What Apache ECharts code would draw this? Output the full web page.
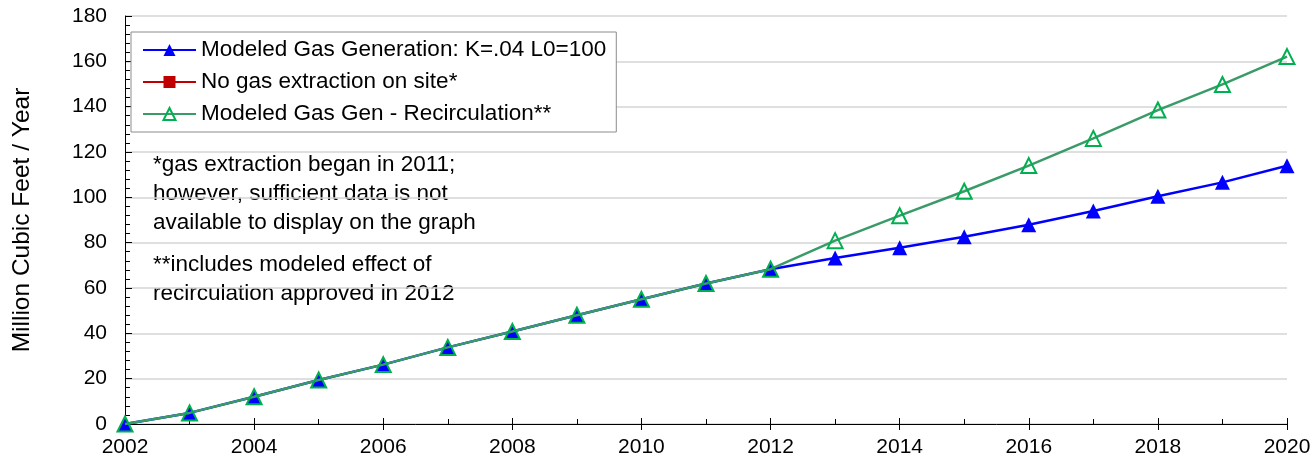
<!DOCTYPE html>
<html>

<head>
	<meta charset="utf-8">
	<title>Modeled Gas Generation</title>
	<script src="https://cdn.jsdelivr.net/npm/echarts@6/dist/echarts.min.js"></script>
	<style>
		html, body { margin: 0; padding: 0; background: #fff; }
		#main { width: 1314px; height: 463px; }
	</style>
</head>

<body>
	<div id="main"></div>

	<script>
		// data
		var years = [2002, 2003, 2004, 2005, 2006, 2007, 2008, 2009, 2010, 2011, 2012, 2013, 2014, 2015, 2016, 2017, 2018, 2019, 2020];
		var modeledGen = [0, 4.9, 12, 19.4, 26.2, 33.8, 40.8, 48, 55, 62, 68.3, 73.2, 77.8, 82.6, 87.9, 94, 100.5, 106.6, 113.9];
		var noExtraction = [];
		var recirculation = [0, 4.9, 12, 19.4, 26.2, 33.8, 40.8, 48, 55, 62, 68.3, 80.9, 91.9, 102.7, 114, 126, 138.5, 149.8, 162.1];
		var yTicks = { min: 0, max: 180, interval: 20 };
		var xTicks = { min: 2002, max: 2020, interval: 2 };

		function pairs(vals) {
			var out = [];
			for (var i = 0; i < vals.length; i++) {
				out.push([years[i], vals[i]]);
			}
			return out;
		}

		var font = 'Liberation Sans, Arial, sans-serif';
		var chart = echarts.init(document.getElementById('main'));

		var option = {
			animation: false,
			backgroundColor: '#fff',
			textStyle: { fontFamily: font, color: '#000' },
			grid: { left: 125, right: 27, top: 16, bottom: 39 },
			legend: {
				orient: 'vertical',
				left: 131,
				top: 32,
				padding: [5, 10, 5, 11],
				itemGap: 6,
				itemWidth: 53,
				itemHeight: 15,
				borderColor: '#8c8c8c',
				borderWidth: 1,
				backgroundColor: '#fff',
				textStyle: { fontSize: 22.5, lineHeight: 26, color: '#000', fontFamily: font },
				data: ['Modeled Gas Generation: K=.04 L0=100', 'No gas extraction on site*', 'Modeled Gas Gen - Recirculation**']
			},
			xAxis: [{
				type: 'value',
				min: xTicks.min,
				max: xTicks.max,
				interval: xTicks.interval,
				position: 'bottom',
				axisLine: { lineStyle: { color: '#000', width: 1 } },
				axisTick: { show: true, length: 6, lineStyle: { color: '#000' } },
				axisLabel: {
					fontSize: 21, color: '#000', margin: 13, fontFamily: font,
					formatter: function (v) { return String(v); }
				},
				splitLine: { show: false }
			}, {
				// upward half of the ticks, plus the yearly minor ticks
				type: 'value',
				min: xTicks.min,
				max: xTicks.max,
				interval: xTicks.interval,
				position: 'bottom',
				offset: 0,
				axisLine: { show: false },
				axisTick: { show: true, inside: true, length: 6, lineStyle: { color: '#000' } },
				minorTick: { show: true, splitNumber: 2, length: 5, lineStyle: { color: '#000' } },
				axisLabel: { show: false },
				splitLine: { show: false }
			}],
			yAxis: {
				type: 'value',
				min: yTicks.min,
				max: yTicks.max,
				interval: yTicks.interval,
				name: 'Million Cubic Feet / Year',
				nameLocation: 'middle',
				nameGap: 90,
				nameTextStyle: { fontSize: 24.5, color: '#000', fontFamily: font },
				axisLine: { show: true, lineStyle: { color: '#000', width: 1 } },
				axisTick: { show: true, inside: true, length: 7, lineStyle: { color: '#000' } },
				minorTick: { show: true, splitNumber: 5, length: 5, lineStyle: { color: '#000' } },
				axisLabel: { fontSize: 21, color: '#000', margin: 18, fontFamily: font },
				splitLine: { show: true, lineStyle: { color: '#d4d4d4', width: 1.5 } }
			},
			series: [{
				name: 'Modeled Gas Generation: K=.04 L0=100',
				type: 'line',
				data: pairs(modeledGen),
				symbol: 'triangle',
				symbolSize: [15, 15],
				lineStyle: { color: '#0000ff', width: 2.5 },
				itemStyle: { color: '#0000ff' },
				z: 2
			}, {
				name: 'No gas extraction on site*',
				type: 'line',
				data: pairs(noExtraction),
				symbol: 'rect',
				symbolSize: 12,
				lineStyle: { color: '#c00000', width: 2.5 },
				itemStyle: { color: '#c00000' },
				z: 3
			}, {
				name: 'Modeled Gas Gen - Recirculation**',
				type: 'line',
				data: pairs(recirculation),
				symbol: 'triangle',
				symbolSize: [15, 15],
				lineStyle: { color: '#3a9b68', width: 2.5 },
				itemStyle: { color: 'transparent', borderColor: '#00b050', borderWidth: 2 },
				z: 4
			}],
			graphic: [{
				type: 'text',
				left: 153,
				top: 150,
				style: {
					text: '*gas extraction began in 2011;\nhowever, sufficient data is not\navailable to display on the graph',
					font: '22.5px ' + font,
					lineHeight: 29,
					fill: '#000'
				}
			}, {
				type: 'text',
				left: 153,
				top: 250,
				style: {
					text: '**includes modeled effect of\nrecirculation approved in 2012',
					font: '22.5px ' + font,
					lineHeight: 29,
					fill: '#000'
				}
			}]
		};

		chart.setOption(option);
	</script>
</body>

</html>
